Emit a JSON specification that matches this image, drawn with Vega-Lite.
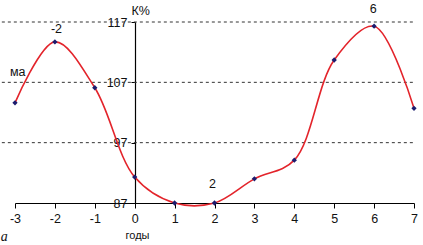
{
  "$schema": "https://vega.github.io/schema/vega-lite/v6.json",
  "width": 399,
  "height": 181,
  "autosize": "none",
  "padding": {"left": 15, "top": 22, "right": 9, "bottom": 42},
  "background": "white",
  "config": {"view": {"stroke": null}, "font": "Liberation Sans"},
  "datasets": {
    "pts": [
      {"year": -3, "k": 103.6},
      {"year": -2, "k": 113.7},
      {"year": -1, "k": 106.1},
      {"year": 0, "k": 91.3},
      {"year": 1, "k": 87.0},
      {"year": 2, "k": 87.0},
      {"year": 3, "k": 91.0},
      {"year": 4, "k": 94.1},
      {"year": 5, "k": 110.7},
      {"year": 6, "k": 116.3},
      {"year": 7, "k": 102.7}
    ],
    "grid": [
      {"g": 117, "x0": -3.33, "x1": 7},
      {"g": 107, "x0": -3.33, "x1": 7},
      {"g": 97, "x0": -3.33, "x1": 7}
    ],
    "notes": [
      {"t": "ма", "year": -2.93, "k": 108.7},
      {"t": "-2", "year": -1.96, "k": 115.8},
      {"t": "2", "year": 1.95, "k": 90.2},
      {"t": "6", "year": 5.98, "k": 119.1}
    ],
    "a": [{"t": "a", "year": -3.27, "k": 81.3}]
  },
  "encoding": {
    "x": {
      "field": "year", "type": "quantitative",
      "scale": {"domain": [-3, 7], "nice": false, "zero": false},
      "axis": {
        "title": "годы", "values": [-3, -2, -1, 0, 1, 2, 3, 4, 5, 6, 7], "tickCount": 11,
        "labelExpr": "'' + datum.value", "labelOverlap": false, "labelBound": false, "labelFlush": false,
        "domainColor": "#000000", "domainWidth": 1.2, "tickColor": "#000000", "tickSize": 5,
        "labelFontSize": 12.5, "labelColor": "#111111", "labelPadding": 4, "grid": false,
        "titleFontSize": 11, "titleFontWeight": "normal", "titleColor": "#111111",
        "titleX": 122, "titleY": 32, "titleAnchor": "middle", "titleBaseline": "middle"
      }
    },
    "y": {
      "field": "k", "type": "quantitative",
      "scale": {"domain": [87, 117], "nice": false, "zero": false},
      "axis": {
        "title": "К%", "values": [87, 97, 107, 117], "offset": -120,
        "labelOverlap": false,
        "domainColor": "#000000", "domainWidth": 1.2, "tickColor": "#000000", "tickSize": 4,
        "labelFontSize": 12.5, "labelColor": "#111111", "labelPadding": 4, "grid": false,
        "titleAngle": 0, "titleFontSize": 12.5, "titleFontWeight": "normal", "titleColor": "#111111",
        "titleX": -4, "titleY": -12, "titleAlign": "left", "titleBaseline": "middle"
      }
    }
  },
  "layer": [
    {
      "data": {"name": "grid"},
      "mark": {"type": "rule", "strokeDash": [3, 3], "color": "#333333", "strokeWidth": 1},
      "encoding": {
        "y": {"field": "g", "type": "quantitative"},
        "x": {"field": "x0", "type": "quantitative"},
        "x2": {"field": "x1"}
      }
    },
    {
      "data": {"name": "pts"},
      "mark": {"type": "line", "interpolate": "catmull-rom", "color": "#e3242b", "strokeWidth": 1.6}
    },
    {
      "data": {"name": "pts"},
      "mark": {"type": "point", "shape": "diamond", "filled": true, "color": "#1c1c6e", "size": 28, "opacity": 1}
    },
    {
      "data": {"name": "notes"},
      "mark": {"type": "text", "fontSize": 12.5, "color": "#111111", "align": "center", "baseline": "middle"},
      "encoding": {"text": {"field": "t"}}
    },
    {
      "data": {"name": "a"},
      "mark": {"type": "text", "fontSize": 14, "font": "Liberation Serif", "fontStyle": "italic", "color": "#111111", "align": "center", "baseline": "middle"},
      "encoding": {"text": {"field": "t"}}
    }
  ]
}
